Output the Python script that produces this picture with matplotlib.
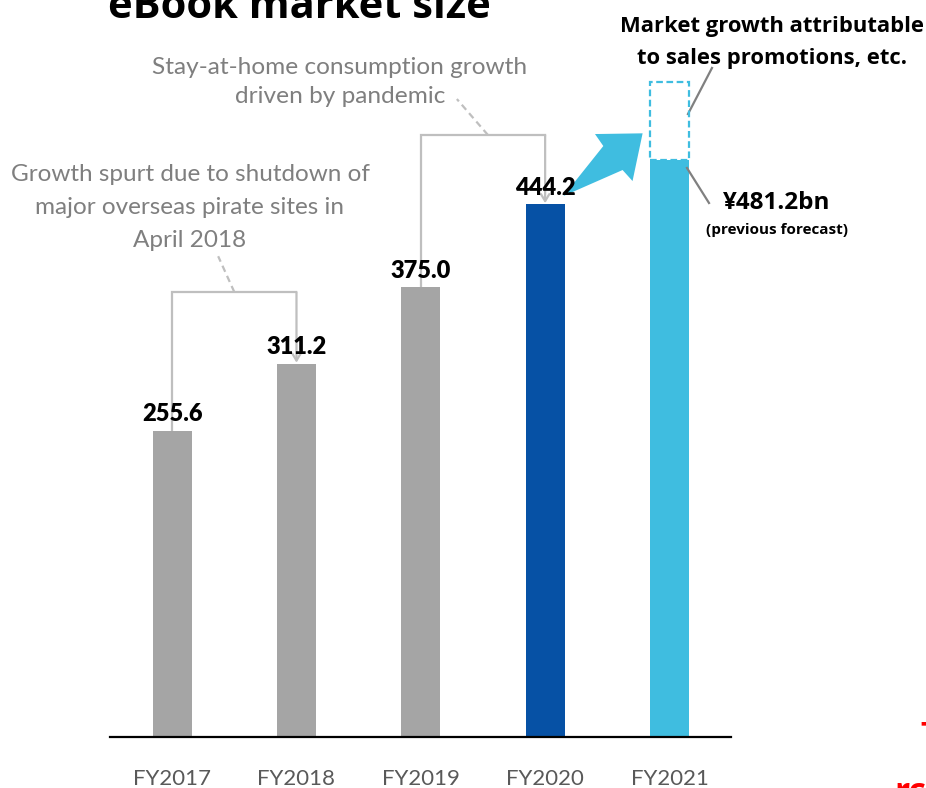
import matplotlib
matplotlib.use("Agg")
import matplotlib.pyplot as plt
from matplotlib.patches import Rectangle, Polygon

# Market size (¥bn)
years = ["FY2017", "FY2018", "FY2019", "FY2020", "FY2021"]
values = [255.6, 311.2, 375.0, 444.2, 481.2]
value_labels = ["255.6", "311.2", "375.0", "444.2"]
fy2021_upside = 546.0          # top of dashed extension (estimate)
bar_colors = ["#a5a5a5", "#a5a5a5", "#a5a5a5", "#0651a5", "#3fbde0"]

GRAY_TXT = "#7f7f7f"
BRACKET = "#bfbfbf"
CYAN = "#3fbde0"
LABEL_FONT = ["Lato", "DejaVu Sans"]
BOLD_FONT = ["Open Sans", "DejaVu Sans"]

W, H = 926, 788
fig = plt.figure(figsize=(W / 100, H / 100), dpi=100)
ax = fig.add_axes([110 / W, 51 / H, 621 / W, 737 / H])
ax.set_xlim(-0.5, 4.495)
ax.set_ylim(0, 614.7)
for s in ["top", "right", "left"]:
    ax.spines[s].set_visible(False)
ax.spines["bottom"].set_linewidth(1.6)
ax.spines["bottom"].set_color("black")
ax.set_xticks([])
ax.set_yticks([])

x = list(range(len(years)))
bw = 0.314
ax.bar(x, values, width=bw, color=bar_colors, zorder=2)

# dashed upside on top of FY2021
ax.add_patch(Rectangle((x[4] - bw / 2, values[4]), bw, fy2021_upside - values[4],
                       fill=False, edgecolor=CYAN, linestyle=(0, (3, 1.6)),
                       linewidth=1.6, zorder=3, clip_on=False))

# value labels
for xi, v, lab in zip(x[:4], values[:4], value_labels):
    ax.annotate(lab, (xi, v), xytext=(0, 7), textcoords="offset points",
                ha="center", va="baseline", fontsize=17, fontweight="heavy",
                family=LABEL_FONT, color="black", zorder=5)

# year labels
for xi, yr in zip(x, years):
    ax.annotate(yr, (xi, 0), xytext=(0, -30), textcoords="offset points",
                ha="center", va="center", fontsize=16, family=LABEL_FONT,
                color="#595959", annotation_clip=False)


def bracket(x0, x1, y0, y1, ytop):
    ax.plot([x0, x0, x1], [y0, ytop, ytop], color=BRACKET, lw=1.6,
            zorder=1, solid_joinstyle="miter", clip_on=False)
    ax.annotate("", xy=(x1, y1), xytext=(x1, ytop),
                arrowprops=dict(arrowstyle="->,head_length=0.5,head_width=0.3",
                                color=BRACKET, lw=1.6, shrinkA=0, shrinkB=0),
                zorder=1, annotation_clip=False)


bracket(x[0], x[1], values[0], values[1] + 1, 371.1)
bracket(x[2], x[3], values[2], values[3] + 1, 502.1)

# dashed leaders to the notes
ax.plot([0.5, 0.37], [371.1, 401.0], color=BRACKET, lw=1.6,
        linestyle=(0, (3, 2)), clip_on=False)
ax.plot([2.54, 2.29], [502.1, 532.1], color=BRACKET, lw=1.6,
        linestyle=(0, (3, 2)), clip_on=False)

ax.text(0.143, 441.6, "Growth spurt due to shutdown of\nmajor overseas pirate sites in\nApril 2018",
        ha="center", va="center", fontsize=17.5, family=LABEL_FONT,
        color=GRAY_TXT, linespacing=1.68, clip_on=False)
ax.text(1.349, 546.3, "Stay-at-home consumption growth\ndriven by pandemic",
        ha="center", va="center", fontsize=17.6, family=LABEL_FONT,
        color=GRAY_TXT, linespacing=1.48, clip_on=False)

# growth arrow from FY2020 towards FY2021
arrow_pts = [(3.147, 451.2), (3.468, 492.9), (3.401, 502.9), (3.784, 503.5),
             (3.703, 463.7), (3.623, 472.9)]
ax.add_patch(Polygon(arrow_pts, closed=True, facecolor=CYAN, edgecolor="none",
                     zorder=4, clip_on=False))

# FY2021 call-outs
ax.plot([4.149, 4.342], [519.6, 558.0], color="#808080", lw=1.6, clip_on=False)
ax.plot([4.141, 4.318], [474.6, 445.4], color="#808080", lw=1.6, clip_on=False)
ax.text(4.824, 579.5, "Market growth attributable\nto sales promotions, etc.",
        ha="center", va="center", fontsize=15.8, fontweight="bold",
        family=BOLD_FONT, color="black", linespacing=1.7, clip_on=False)
ax.text(4.864, 445.4, "¥481.2bn", ha="center", va="center", fontsize=17.5,
        fontweight="bold", family=BOLD_FONT, color="black", clip_on=False)
ax.text(4.864, 423.0, "(previous forecast)", ha="center", va="center",
        fontsize=11, fontweight="bold", family=BOLD_FONT, color="black",
        clip_on=False)

# title
fig.text(108 / W, 1 - 18 / H, "eBook market size", ha="left", va="baseline",
         fontsize=30, fontweight="bold", family=BOLD_FONT, color="black")

# red side note running off the edge
fig.text(920 / W, 1 - 721 / H, "T", ha="left", va="top", fontsize=22,
         fontweight="bold", family=BOLD_FONT, color="#ff0000")
fig.text(894 / W, 1 - 776 / H, "rc", ha="left", va="top", fontsize=24,
         fontweight="bold", family=BOLD_FONT, color="#ff0000")

fig.savefig("out.png", dpi=100)
